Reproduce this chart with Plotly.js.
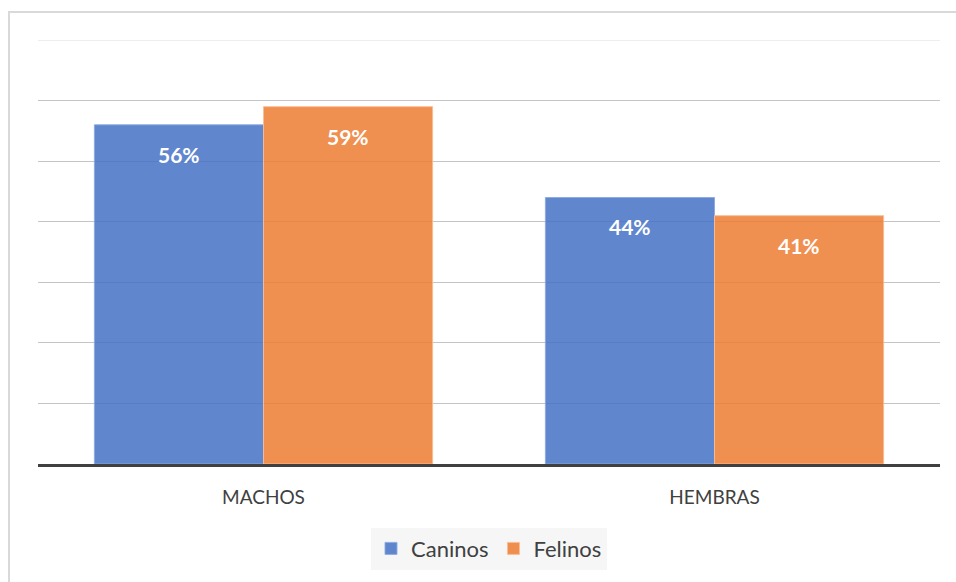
<!DOCTYPE html>
<html><head><meta charset="utf-8">
<script src="https://cdn.plot.ly/plotly-3.0.1.min.js"></script>
<style>
body{margin:0;padding:0;background:#fff;}
#chart{width:956px;height:582px;}
#frame{position:absolute;left:8px;top:11px;width:960px;height:600px;border:2px solid #d9d9d9;pointer-events:none;}
</style></head>
<body>
<div id="chart"></div>
<div id="frame"></div>
<script>
const categories = ["MACHOS", "HEMBRAS"];
const seriesNames = ["Caninos", "Felinos"];
const caninos = [56, 44];
const felinos = [59, 41];
const yMax = 70;
const colors = ["rgba(68,114,196,0.85)", "rgba(237,125,49,0.85)"];
const lineColors = ["rgba(140,170,225,0.9)", "rgba(250,190,150,0.9)"];

const xIdx = categories.map((c, i) => i);
const series = [caninos, felinos];
const traces = series.map((vals, s) => ({
  type: "bar", name: seriesNames[s], x: xIdx, y: vals,
  marker: {color: colors[s], line: {color: lineColors[s], width: 1}},
  hoverinfo: "none"
}));

const annotations = [];
series.forEach((vals, s) => {
  vals.forEach((v, i) => {
    annotations.push({
      x: i + (s === 0 ? -0.1875 : 0.1875), y: v, xref: "x", yref: "y",
      text: "<b>" + v + "%</b>", showarrow: false, yanchor: "top", yshift: -15,
      font: {family: "Lato, 'Open Sans', sans-serif", size: 21, color: "#ffffff"}
    });
  });
});

const layout = {
  width: 956, height: 582,
  margin: {l: 38, r: 16, t: 40, b: 118},
  paper_bgcolor: "#ffffff", plot_bgcolor: "#ffffff",
  barmode: "group", bargap: 0.25, bargroupgap: 0,
  font: {family: "Lato, 'Open Sans', sans-serif", color: "#404040"},
  xaxis: {
    tickmode: "array", tickvals: xIdx, ticktext: categories,
    range: [-0.5, 1.5], showgrid: false, zeroline: false,
    showline: true, linecolor: "#404040", linewidth: 3,
    ticks: "", ticklabelstandoff: 14,
    tickfont: {size: 19, color: "#404040"}, fixedrange: true
  },
  yaxis: {
    range: [0, yMax], dtick: 10,
    showticklabels: false, ticks: "",
    showgrid: true, gridcolor: "#c4c4c4", gridwidth: 1,
    zeroline: false, showline: false, fixedrange: true
  },
  shapes: [{
    type: "line", xref: "paper", yref: "y", x0: 0, x1: 1, y0: yMax, y1: yMax,
    line: {color: "#dedede", width: 1}, layer: "below"
  }],
  showlegend: true,
  legend: {
    orientation: "h", x: 0.5, xanchor: "center", y: -0.15, yanchor: "top",
    bgcolor: "#f6f6f6", font: {size: 22, color: "#404040"},
    itemwidth: 30, traceorder: "normal"
  },
  annotations: annotations
};

Plotly.newPlot("chart", traces, layout, {displayModeBar: false, staticPlot: true});
</script>
</body></html>
